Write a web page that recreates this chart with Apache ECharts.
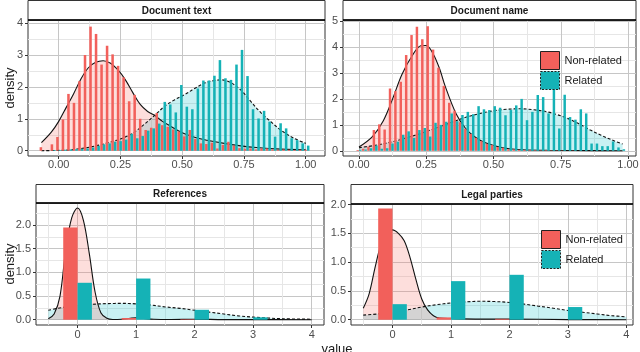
<!DOCTYPE html>
<html><head><meta charset="utf-8">
<script src="https://cdn.jsdelivr.net/npm/echarts@6/dist/echarts.min.js"></script>
<style>html,body{margin:0;padding:0;background:#fff}#c{width:640px;height:352px}</style>
</head><body><div id="c"></div>
<script>
// ---------- DATA ----------
const seriesNames = ['Non-related', 'Related'];
const panelTitles = ['Document text', 'Document name', 'References', 'Legal parties'];

// Document text histogram (49 bins)
const dtBinStart = -0.067, dtBinWidth = 0.02233, dtBinCount = 49;
const dtRed = [0.11,0,0.2,0.43,0.98,1.78,1.5,2.18,3.0,3.89,3.66,2.7,3.29,3.02,2.66,2.3,1.55,1.75,1.0,0.65,0.72,1.18,0.8,0.75,0.67,0.6,0.45,0.65,0.37,0.23,0.21,0.25,0.07,0.18,0.28,0.16,0.08,0.06,0.07,0.04,0.07,0.07,0.04,0.03,0.04,0.03,0.02,0.03,0.03];
const dtTeal = [0,0,0.02,0.02,0.03,0.04,0.05,0.06,0.07,0.1,0.15,0.2,0.23,0.28,0.3,0.35,0.53,0.39,0.46,0.63,0.7,0.85,1.53,1.45,1.2,2.06,1.38,1.3,1.95,2.2,2.2,2.35,2.84,2.27,2.22,2.7,3.16,2.34,1.3,1.01,1.25,0.91,0.44,0.86,0.7,0.39,0.33,0.23,0.16];
const dtRedDens = [[-0.07,0.25],[-0.03,0.58],[0,0.92],[0.03,1.35],[0.06,1.78],[0.09,2.25],[0.12,2.6],[0.15,2.77],[0.18,2.82],[0.21,2.74],[0.24,2.53],[0.27,2.22],[0.3,1.82],[0.33,1.45],[0.36,1.23],[0.39,1.1],[0.42,0.92],[0.45,0.78],[0.5,0.56],[0.55,0.42],[0.6,0.33],[0.67,0.23],[0.73,0.16],[0.8,0.1],[0.9,0.05],[1.0,0.03]];
const dtTealDens = [[-0.07,0.0],[0,0.01],[0.05,0.03],[0.1,0.08],[0.15,0.15],[0.2,0.25],[0.25,0.37],[0.3,0.55],[0.35,0.85],[0.39,1.12],[0.43,1.4],[0.47,1.6],[0.51,1.76],[0.55,1.95],[0.59,2.12],[0.63,2.2],[0.66,2.22],[0.7,2.12],[0.74,1.88],[0.78,1.52],[0.82,1.18],[0.86,0.9],[0.9,0.64],[0.95,0.4],[1.0,0.23]];

// Document name histogram (50 bins)
const dnBinStart = 0, dnBinWidth = 0.02, dnBinCount = 50;
const dnRed = [0.03,0.08,0.16,0.8,1.02,0.82,2.4,2.3,2.66,3.69,4.46,4.78,4.3,4.8,3.9,3.2,2.5,1.85,1.55,1.1,0.85,0.65,0.5,0.37,0.27,0.22,0.15,0.12,0.06,0.05,0.04,0.03,0.02,0.02,0.01,0.02,0.01,0.01,0.01,0,0.01,0,0,0,0,0,0,0,0,0];
const dnTeal = [0.04,0.05,0.1,0.2,0.08,0.1,0.28,0.35,0.62,0.75,0.5,0.8,0.88,0.55,1.08,1.0,1.12,1.44,1.14,1.38,1.5,1.41,1.72,1.6,1.57,1.72,1.66,1.37,1.57,1.75,2.0,1.18,1.5,2.15,2.07,1.44,2.45,0.86,2.16,1.3,1.2,1.6,1.44,0.28,0.28,0.18,0.18,0.36,0.13,0.06];
const dnRedDens = [[0,0.15],[0.05,0.55],[0.09,1.15],[0.125,2.0],[0.16,2.95],[0.2,3.7],[0.23,4.05],[0.25,4.06],[0.275,3.75],[0.3,3.15],[0.32,2.5],[0.36,1.45],[0.395,0.88],[0.43,0.54],[0.47,0.31],[0.53,0.13],[0.59,0.05],[0.7,0.02],[0.8,0.01],[0.98,0.0]];
const dnTealDens = [[0,0.12],[0.06,0.21],[0.12,0.34],[0.19,0.54],[0.25,0.74],[0.3,0.93],[0.35,1.12],[0.4,1.3],[0.45,1.44],[0.5,1.54],[0.55,1.6],[0.6,1.62],[0.65,1.58],[0.7,1.5],[0.76,1.31],[0.81,1.08],[0.86,0.8],[0.9,0.6],[0.94,0.42],[0.98,0.26]];

// References
const refX = [0, 1, 2, 3];
const refRed = [1.95, 0.035, 0.01, 0];
const refTeal = [0.78, 0.87, 0.21, 0.05];
const refRedDens = [[-0.5,0.02],[-0.4,0.12],[-0.3,0.5],[-0.2,1.5],[-0.1,2.15],[0,2.36],[0.1,2.1],[0.2,1.4],[0.3,0.58],[0.4,0.14],[0.5,0.03],[0.6,0.005],[0.75,0.01],[0.9,0.03],[1.0,0.04],[1.1,0.03],[1.3,0.01],[1.6,0.005],[2,0.01],[2.5,0.002],[3,0.001],[4,0]];
const refTealDens = [[-0.5,0.2],[-0.25,0.26],[0,0.3],[0.25,0.325],[0.5,0.34],[0.75,0.345],[1,0.335],[1.25,0.31],[1.5,0.27],[1.75,0.24],[2,0.2],[2.25,0.16],[2.5,0.12],[2.75,0.08],[3,0.055],[3.25,0.035],[3.5,0.02],[4,0.01]];

// Legal parties
const lpX = [0, 1, 2, 3];
const lpRed = [1.93, 0.04, 0.015, 0];
const lpTeal = [0.27, 0.67, 0.78, 0.22];
const lpRedDens = [[-0.5,0.2],[-0.4,0.45],[-0.3,0.9],[-0.2,1.3],[-0.1,1.5],[0,1.56],[0.1,1.5],[0.2,1.37],[0.3,1.08],[0.4,0.7],[0.5,0.36],[0.6,0.17],[0.7,0.07],[0.8,0.03],[1,0.02],[1.5,0.01],[2,0.01],[3,0.002],[4,0]];
const lpTealDens = [[-0.5,0.08],[-0.25,0.1],[0,0.13],[0.25,0.17],[0.5,0.22],[0.75,0.26],[1,0.29],[1.25,0.31],[1.5,0.32],[1.75,0.315],[2,0.3],[2.25,0.27],[2.5,0.235],[2.75,0.2],[3,0.16],[3.25,0.13],[3.5,0.1],[3.75,0.07],[4,0.05]];

// tick labels
const ticksUnit = [0, 0.25, 0.5, 0.75, 1];
const ticksUnitMinor = [0.125, 0.375, 0.625, 0.875];
const ticksCount = [0, 1, 2, 3, 4];
const ticksCountMinor = [-0.5, 0.5, 1.5, 2.5, 3.5];

// ---------- BUILD ----------
function bins(start, width, n) { const a = []; for (let i = 0; i < n; i++) a.push(+(start + i * width).toFixed(5)); return a; }
function pairs(xs, ys) { return xs.map((x, i) => [x, ys[i]]); }

const RED = '#F2605B', TEAL = '#15B2B6';
const REDF = 'rgba(248,118,109,0.35)', TEALF = 'rgba(0,191,196,0.3)';
const FONT = '"Liberation Sans", Arial, Helvetica, sans-serif';

const dtX = bins(dtBinStart, dtBinWidth, dtBinCount);
const dnX = bins(dnBinStart, dnBinWidth, dnBinCount);

const panels = [
  { grid: {left: 28, top: 20, width: 297, height: 136}, xr: [-0.1243, 1.078], yr: [-0.166, 4.097],
    xMaj: ticksUnit, xMin: ticksUnitMinor, yMaj: [0,1,2,3,4], yMin: [0.5,1.5,2.5,3.5], xd: 2, yd: 0, xm: 3,
    red: pairs(dtX, dtRed), teal: pairs(dtX, dtTeal), rd: dtRedDens, td: dtTealDens, bw: '46%' },
  { grid: {left: 343, top: 20, width: 293, height: 136}, xr: [-0.0594, 1.0297], yr: [-0.2, 5.04],
    xMaj: ticksUnit, xMin: ticksUnitMinor, yMaj: [0,1,2,3,4,5], yMin: [0.5,1.5,2.5,3.5,4.5], xd: 2, yd: 0, xm: 3,
    red: pairs(dnX, dnRed), teal: pairs(dnX, dnTeal), rd: dnRedDens, td: dnTealDens, bw: '46%' },
  { grid: {left: 36, top: 203, width: 288, height: 122}, xr: [-0.71, 4.21], yr: [-0.112, 2.466],
    xMaj: ticksCount, xMin: ticksCountMinor, yMaj: [0,0.5,1,1.5,2], yMin: [0.25,0.75,1.25,1.75,2.25], xd: 0, yd: 1, xm: 4,
    red: pairs(refX, refRed), teal: pairs(refX, refTeal), rd: refRedDens, td: refTealDens, bw: '24.5%' },
  { grid: {left: 351, top: 204, width: 282, height: 121}, xr: [-0.71, 4.113], yr: [-0.092, 2.01],
    xMaj: ticksCount, xMin: ticksCountMinor, yMaj: [0,0.5,1,1.5,2], yMin: [0.25,0.75,1.25,1.75], xd: 0, yd: 1, xm: 4,
    red: pairs(lpX, lpRed), teal: pairs(lpX, lpTeal), rd: lpRedDens, td: lpTealDens, bw: '24.5%' }
];

const grids = [], xAxes = [], yAxes = [], series = [];
const labelStyle = {fontSize: 11, color: '#4D4D4D', fontFamily: FONT};
panels.forEach((p, k) => {
  grids.push(Object.assign({show: true, borderColor: '#333', borderWidth: 1, backgroundColor: 'transparent', containLabel: false, outerBoundsMode: 'none'}, p.grid));
  xAxes.push({gridIndex: k, type: 'value', min: p.xr[0], max: p.xr[1], position: 'bottom',
    axisLine: {show: false, onZero: false},
    axisTick: {show: true, length: 3, lineStyle: {color: '#333'}, customValues: p.xMaj},
    axisLabel: Object.assign({customValues: p.xMaj, margin: p.xm, formatter: v => Number(v).toFixed(p.xd)}, labelStyle),
    splitLine: {show: true, lineStyle: {color: '#C6C6C6', width: 1}}});
  yAxes.push({gridIndex: k, type: 'value', min: p.yr[0], max: p.yr[1], position: 'left',
    axisLine: {show: false, onZero: false},
    axisTick: {show: true, length: 3, lineStyle: {color: '#333'}, customValues: p.yMaj},
    axisLabel: Object.assign({customValues: p.yMaj, margin: 5, formatter: v => Number(v).toFixed(p.yd)}, labelStyle),
    splitLine: {show: true, lineStyle: {color: '#C6C6C6', width: 1}}});
});
panels.forEach((p, k) => {
  xAxes.push({gridIndex: k, type: 'value', min: p.xr[0], max: p.xr[1], position: 'bottom',
    axisLine: {show: false, onZero: false}, axisLabel: {show: false},
    axisTick: {show: false, customValues: p.xMin},
    splitLine: {show: true, lineStyle: {color: '#E6E6E6', width: 1}}});
  yAxes.push({gridIndex: k, type: 'value', min: p.yr[0], max: p.yr[1], position: 'left',
    axisLine: {show: false, onZero: false}, axisLabel: {show: false},
    axisTick: {show: false, customValues: p.yMin},
    splitLine: {show: true, lineStyle: {color: '#E6E6E6', width: 1}}});
});
panels.forEach((p, k) => {
  series.push({type: 'line', name: 'tealDensity' + k, xAxisIndex: k, yAxisIndex: k, data: p.td, smooth: 0.35,
    showSymbol: false, symbol: 'none', z: 1, silent: true,
    lineStyle: {color: '#111', width: 1.1, type: [3, 2]}, areaStyle: {color: TEALF}});
  series.push({type: 'line', name: 'redDensity' + k, xAxisIndex: k, yAxisIndex: k, data: p.rd, smooth: 0.35,
    showSymbol: false, symbol: 'none', z: 1, silent: true,
    lineStyle: {color: '#111', width: 1.1}, areaStyle: {color: REDF}});
  series.push({type: 'bar', name: seriesNames[0], xAxisIndex: k, yAxisIndex: k, data: p.red, barWidth: p.bw, barGap: '0%',
    itemStyle: {color: RED}, z: 2, silent: true});
  series.push({type: 'bar', name: seriesNames[1], xAxisIndex: k, yAxisIndex: k, data: p.teal, barWidth: p.bw, barGap: '0%',
    itemStyle: {color: TEAL}, z: 2, silent: true});
});

function legendAt(left, top) {
  return {left: left, top: top, orient: 'vertical', padding: 0, itemWidth: 19, itemHeight: 18, itemGap: 1,
    icon: 'rect', selectedMode: false, itemStyle: {borderColor: '#222', borderWidth: 1},
    textStyle: {fontSize: 11, color: '#1a1a1a', fontFamily: FONT},
    data: [
      {name: seriesNames[0], icon: 'rect', itemStyle: {color: RED, borderColor: '#222', borderWidth: 1, borderType: 'solid'}},
      {name: seriesNames[1], icon: 'rect', itemStyle: {color: TEAL, borderColor: '#222', borderWidth: 1, borderType: [2, 1.5]}}
    ]};
}

const strips = [
  {x: 28, y: 0.5, w: 297, h: 19.5, t: panelTitles[0]},
  {x: 343, y: 0.5, w: 293, h: 19.5, t: panelTitles[1]},
  {x: 36, y: 184.5, w: 288, h: 18.5, t: panelTitles[2]},
  {x: 351, y: 184.5, w: 282, h: 19.5, t: panelTitles[3]}
];
const graphic = [];
strips.forEach(s => {
  graphic.push({type: 'rect', shape: {x: s.x, y: s.y, width: s.w, height: s.h}, style: {fill: '#fff', stroke: '#333', lineWidth: 1}, z: 10});
  graphic.push({type: 'line', shape: {x1: s.x, y1: s.y + s.h, x2: s.x + s.w, y2: s.y + s.h}, style: {stroke: '#000', lineWidth: 1.6}, z: 11});
  graphic.push({type: 'text', x: s.x + s.w / 2, y: s.y + s.h / 2 + 0.5, z: 12,
    style: {text: s.t, fill: '#1a1a1a', fontSize: 10, fontWeight: 'bold', fontFamily: FONT, align: 'center', verticalAlign: 'middle'}});
});
graphic.push({type: 'text', x: 10, y: 88, rotation: Math.PI / 2, z: 12,
  style: {text: 'density', fill: '#1a1a1a', fontSize: 13, fontFamily: FONT, align: 'center', verticalAlign: 'middle'}});
graphic.push({type: 'text', x: 10, y: 264, rotation: Math.PI / 2, z: 12,
  style: {text: 'density', fill: '#1a1a1a', fontSize: 13, fontFamily: FONT, align: 'center', verticalAlign: 'middle'}});
graphic.push({type: 'text', x: 337, y: 349, z: 12,
  style: {text: 'value', fill: '#1a1a1a', fontSize: 13, fontFamily: FONT, align: 'center', verticalAlign: 'middle'}});

const chart = echarts.init(document.getElementById('c'), null, {renderer: 'canvas'});
chart.setOption({
  animation: false,
  backgroundColor: '#fff',
  textStyle: {fontFamily: FONT},
  grid: grids,
  xAxis: xAxes,
  yAxis: yAxes,
  legend: [legendAt(540, 51), legendAt(541, 230)],
  graphic: graphic,
  series: series
});
</script>
</body></html>
